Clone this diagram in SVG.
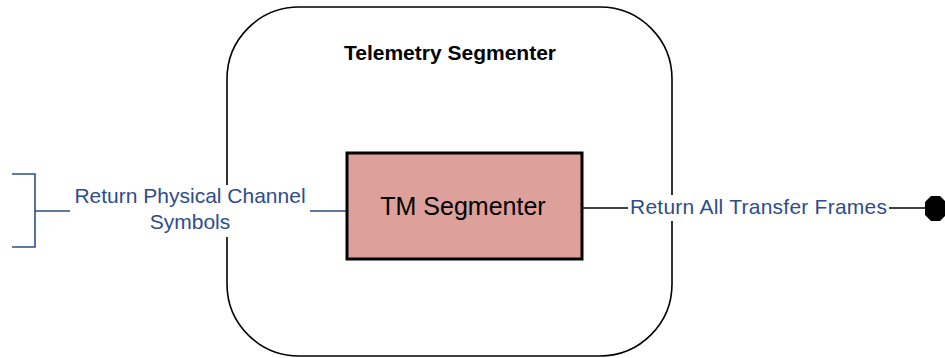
<svg xmlns="http://www.w3.org/2000/svg" width="945" height="358" viewBox="0 0 945 358">
<style>
.lbl{font-family:"Liberation Sans",Arial,sans-serif;font-size:21px;fill:#2D4D8A}
.title{font-family:"Liberation Sans",Arial,sans-serif;font-size:21px;font-weight:bold;fill:#000}
.node{font-family:"Liberation Sans",Arial,sans-serif;font-size:25px;fill:#000}
.blue{stroke:#2D4D8A;stroke-width:1.6;fill:none}
.blk{stroke:#000;stroke-width:1.6;fill:none}
.bg{fill:#fff}
</style>
<rect width="945" height="358" fill="#fff"/>
<g id="telemetry-segmenter">
<rect x="227" y="7" width="445" height="349" rx="72" ry="72" fill="#fff" stroke="#000" stroke-width="1.6"/>
<text class="title" x="450" y="60" text-anchor="middle">Telemetry Segmenter</text>
</g>
<g id="connectors">
<path class="blue" d="M12,174 H35 V247 H12 M35,211 H347"/>
<path class="blk" d="M582,208 H925"/>
<polygon points="931,196 940,196 946,202 946,215 940,221 931,221 925,215 925,202" fill="#000"/>
<rect class="bg" x="70" y="185" width="240" height="52"/>
<text class="lbl" x="190" y="203" text-anchor="middle">Return Physical Channel</text>
<text class="lbl" x="190" y="229" text-anchor="middle">Symbols</text>
<rect class="bg" x="628" y="195" width="261" height="26"/>
<text class="lbl" x="630" y="214" textLength="257">Return All Transfer Frames</text>
</g>
<g id="tm-segmenter">
<rect x="347" y="153" width="235" height="106" fill="#DDA09B" stroke="#000" stroke-width="3"/>
<text class="node" x="463" y="215" text-anchor="middle">TM Segmenter</text>
</g>
</svg>
